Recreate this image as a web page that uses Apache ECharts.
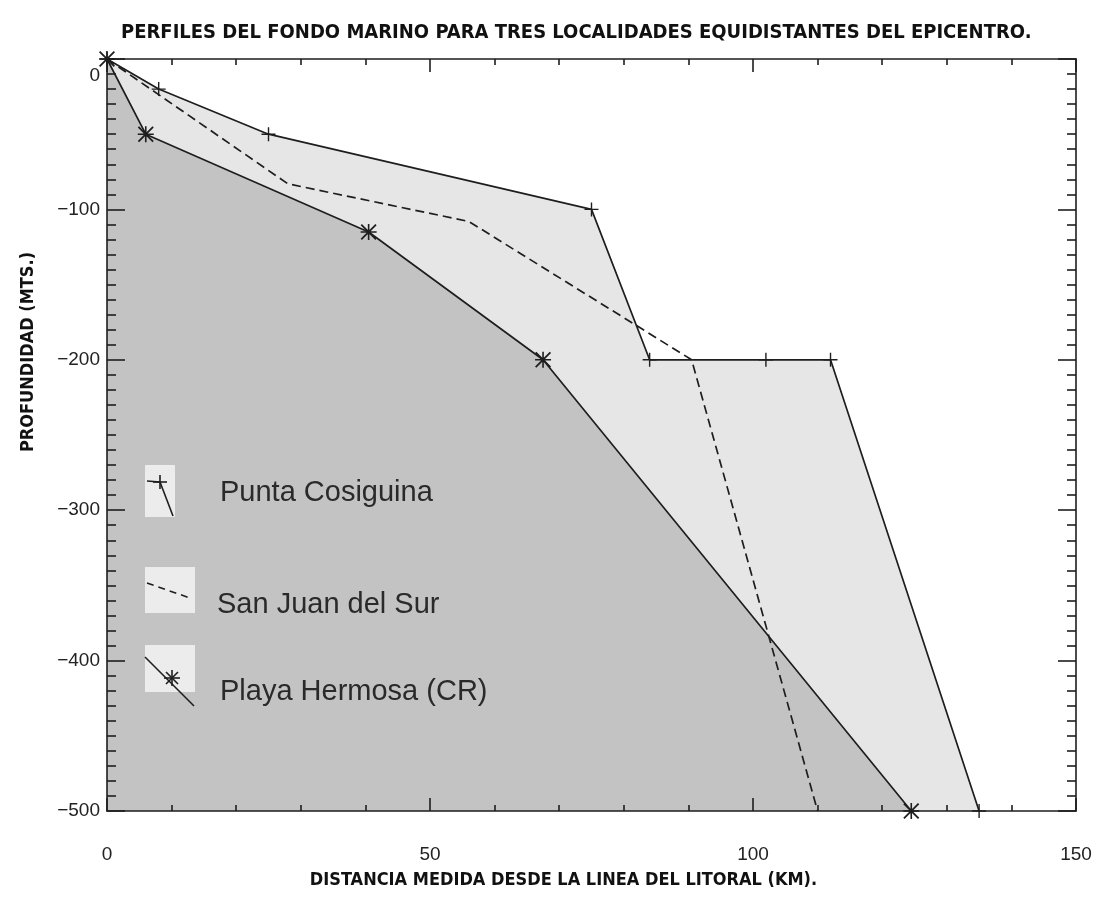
<!DOCTYPE html>
<html><head><meta charset="utf-8">
<script src="https://cdn.jsdelivr.net/npm/echarts@6/dist/echarts.min.js"></script>
<style>html,body{margin:0;padding:0;background:#fff}#c{width:1099px;height:917px}</style>
</head><body><div id="c"></div>
<script>
// ---- data ----
const seriesNames = ['Punta Cosiguina', 'San Juan del Sur', 'Playa Hermosa (CR)'];
const puntaDist  = [0, 8, 25, 75, 84, 102, 112, 135];
const puntaDepth = [0, -20, -50, -100, -200, -200, -200, -500];
const sanJuanDist  = [0, 28, 56, 90.5, 110];
const sanJuanDepth = [0, -83, -108, -200, -500];
const playaDist  = [0, 6, 40.5, 67.5, 124.5];
const playaDepth = [0, -50, -115, -200, -500];
const xTickValues = [0, 50, 100, 150];
const xTickLabels = ['0', '50', '100', '150'];
const yTickValues = [0, -100, -200, -300, -400, -500];
const yTickLabels = ['0', '\u2212100', '\u2212200', '\u2212300', '\u2212400', '\u2212500'];
const titleText = 'PERFILES DEL FONDO MARINO PARA TRES LOCALIDADES EQUIDISTANTES DEL EPICENTRO.';
const xTitle = 'DISTANCIA MEDIDA DESDE LA LINEA DEL LITORAL (KM).';
const yTitle = 'PROFUNDIDAD (MTS.)';

const pairs = (xs, ys) => xs.map((x, i) => [x, ys[i]]);

const plusPath = 'path://M9,0 h2 v20 h-2 z M0,9 h20 v2 h-20 z';
const starPath = 'path://M9,0 h2 v20 h-2 z M0,9 h20 v2 h-20 z M0,1.6 L1.6,0 L20,18.4 L18.4,20 Z M18.4,0 L20,1.6 L1.6,20 L0,18.4 Z';

const narrow = '"Liberation Sans Narrow","DejaVu Sans Condensed","Liberation Sans",sans-serif';
const tickFont = '"Liberation Sans", Arial, sans-serif';
const ink = '#1e1e1e';
const dashPat = [9, 5];

const chart = echarts.init(document.getElementById('c'), null, {renderer: 'canvas'});

const baseX = {
  type: 'value', min: 0, max: 150, interval: 50, z: 10,
  splitLine: {show: false},
  axisLine: {show: true, onZero: false, lineStyle: {color: ink, width: 1.6}},
  axisTick: {show: true, inside: true, length: 13, lineStyle: {color: ink, width: 1.6}},
  minorTick: {show: true, splitNumber: 5, length: 6, lineStyle: {color: ink, width: 1.6}},
};
const baseY = {
  type: 'value', min: -500, max: 0, interval: 100, z: 10,
  splitLine: {show: false},
  axisLine: {show: true, onZero: false, lineStyle: {color: ink, width: 1.6}},
  axisTick: {show: true, inside: true, length: 18, lineStyle: {color: ink, width: 1.6}},
  minorTick: {show: true, splitNumber: 10, length: 9, lineStyle: {color: ink, width: 1.6}},
};

const seg = (x1, y1, x2, y2, dash) => ({
  type: 'line', shape: {x1, y1, x2, y2},
  style: {stroke: ink, lineWidth: 1.6, lineDash: dash || null}, z: 11
});

const option = {
  animation: false,
  backgroundColor: '#ffffff',
  title: {
    text: titleText, left: 116, top: 18,
    textStyle: {fontFamily: narrow, fontWeight: 'bold', fontSize: 20, color: '#111'}
  },
  grid: {left: 107, top: 59, right: 23, bottom: 106, containLabel: false},
  xAxis: [
    Object.assign({}, baseX, {
      position: 'bottom',
      name: xTitle, nameLocation: 'middle', nameGap: 60,
      nameTextStyle: {fontFamily: narrow, fontWeight: 'bold', fontSize: 18, color: '#111', padding: [0, 56, 0, 0]},
      axisLabel: {
        margin: 34, fontFamily: tickFont, fontSize: 19, color: '#222',
        formatter: v => { const i = xTickValues.indexOf(v); return i >= 0 ? xTickLabels[i] : ''; }
      }
    }),
    Object.assign({}, baseX, {position: 'top', axisLabel: {show: false}})
  ],
  yAxis: [
    Object.assign({}, baseY, {
      position: 'left',
      name: yTitle, nameLocation: 'middle', nameGap: 70,
      nameTextStyle: {fontFamily: narrow, fontWeight: 'bold', fontSize: 18, color: '#111', padding: [0, 0, 0, 166]},
      axisLabel: {
        margin: 7, fontFamily: tickFont, fontSize: 19, color: '#222',
        formatter: v => {
          const i = yTickValues.indexOf(v);
          const s = i >= 0 ? yTickLabels[i] : '';
          return v === 0 ? '{z|' + s + '}' : s;
        },
        rich: {z: {padding: [34, 0, 0, 0], fontFamily: tickFont, fontSize: 19, color: '#222'}}
      }
    }),
    Object.assign({}, baseY, {position: 'right', axisLabel: {show: false}})
  ],
  series: [
    {
      name: seriesNames[0], type: 'line', data: pairs(puntaDist, puntaDepth),
      symbol: plusPath, symbolSize: 14, showSymbol: true, showAllSymbol: true,
      lineStyle: {color: ink, width: 1.7},
      itemStyle: {color: ink},
      areaStyle: {color: '#e6e6e6', opacity: 1, origin: 'start'},
      z: 2
    },
    {
      name: seriesNames[2], type: 'line', data: pairs(playaDist, playaDepth),
      symbol: starPath, symbolSize: 16, showSymbol: true, showAllSymbol: true,
      lineStyle: {color: ink, width: 1.7},
      itemStyle: {color: ink},
      areaStyle: {color: '#c3c3c3', opacity: 1, origin: 'start'},
      z: 3
    },
    {
      name: seriesNames[1], type: 'line', data: pairs(sanJuanDist, sanJuanDepth),
      showSymbol: false, symbol: 'none',
      lineStyle: {color: ink, width: 1.7, type: dashPat},
      z: 4
    }
  ],
  graphic: [
    // legend boxes
    {type: 'rect', shape: {x: 145, y: 465, width: 30, height: 52}, style: {fill: '#ececec'}, z: 10},
    {type: 'rect', shape: {x: 145, y: 567, width: 50, height: 46}, style: {fill: '#ececec'}, z: 10},
    {type: 'rect', shape: {x: 145, y: 645, width: 50, height: 47}, style: {fill: '#ececec'}, z: 10},
    // legend glyphs
    seg(147, 481, 160, 482), seg(160, 482, 173, 516),
    seg(160, 475, 160, 489), seg(153, 482, 167, 482),
    seg(147, 583, 190, 598, [7, 5]),
    seg(145, 657, 194, 706),
    seg(172, 670, 172, 686), seg(164, 678, 180, 678), seg(166, 672, 178, 684), seg(178, 672, 166, 684),
    // legend texts
    {type: 'text', x: 220, y: 493, style: {text: seriesNames[0], fontFamily: tickFont, fontSize: 29, fill: '#2a2a2a', verticalAlign: 'middle'}, z: 11},
    {type: 'text', x: 217, y: 605, style: {text: seriesNames[1], fontFamily: tickFont, fontSize: 29, fill: '#2a2a2a', verticalAlign: 'middle'}, z: 11},
    {type: 'text', x: 220, y: 692, style: {text: seriesNames[2], fontFamily: tickFont, fontSize: 29, fill: '#2a2a2a', verticalAlign: 'middle'}, z: 11}
  ]
};
chart.setOption(option);
</script>
</body></html>
